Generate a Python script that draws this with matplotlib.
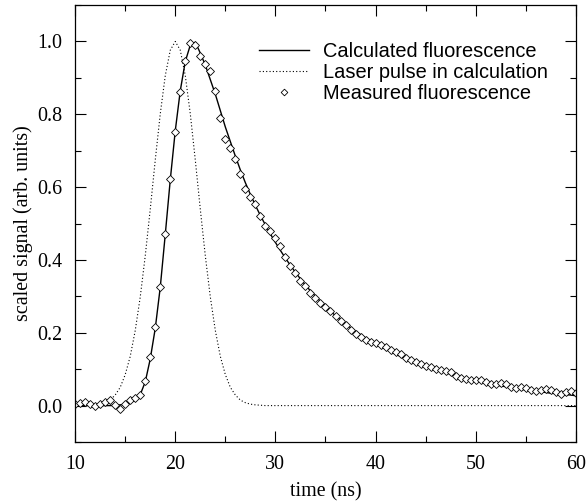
#!/usr/bin/env python3
"""Calculated vs measured fluorescence, with the laser pulse used in the calculation."""

import matplotlib

matplotlib.use("Agg")
import matplotlib.pyplot as plt
import numpy as np
from matplotlib.legend_handler import HandlerLine2D
from matplotlib.lines import Line2D
from matplotlib.ticker import FormatStrFormatter, MultipleLocator

# time grid of the measurement (ns), 0.5 ns steps from 10 to 60
time_ns = [10 + 0.5 * i for i in range(101)]

measured = [
    0.005, 0.007, 0.010, 0.005, 0.000, 0.005, 0.010, 0.015, 0.003, -0.008,
    0.005, 0.015, 0.020, 0.030, 0.067, 0.133, 0.216, 0.327, 0.470, 0.621,
    0.752, 0.860, 0.947, 0.997, 0.991, 0.961, 0.939, 0.918, 0.863, 0.790,
    0.733, 0.707, 0.678, 0.637, 0.596, 0.572, 0.553, 0.522, 0.493, 0.479,
    0.461, 0.437, 0.407, 0.384, 0.364, 0.343, 0.329, 0.310, 0.296, 0.283,
    0.272, 0.260, 0.245, 0.232, 0.220, 0.208, 0.197, 0.188, 0.181, 0.175,
    0.171, 0.166, 0.162, 0.154, 0.147, 0.141, 0.132, 0.125, 0.119, 0.113,
    0.109, 0.105, 0.101, 0.098, 0.096, 0.092, 0.081, 0.075, 0.072, 0.070,
    0.070, 0.069, 0.065, 0.060, 0.058, 0.063, 0.059, 0.051, 0.048, 0.050,
    0.047, 0.043, 0.040, 0.043, 0.046, 0.043, 0.037, 0.031, 0.036, 0.039,
    0.034,
]

calculated = [
    0.000, 0.000, 0.000, 0.000, 0.000, 0.000, 0.000, 0.000, 0.001, 0.002,
    0.004, 0.008, 0.015, 0.030, 0.065, 0.128, 0.212, 0.325, 0.470, 0.620,
    0.755, 0.865, 0.945, 0.990, 0.998, 0.968, 0.935, 0.895, 0.855, 0.810,
    0.765, 0.725, 0.685, 0.647, 0.612, 0.580, 0.550, 0.522, 0.496, 0.471,
    0.448, 0.426, 0.405, 0.385, 0.366, 0.348, 0.331, 0.315, 0.300, 0.286,
    0.272, 0.259, 0.247, 0.235, 0.224, 0.214, 0.204, 0.195, 0.186, 0.178,
    0.170, 0.162, 0.155, 0.148, 0.141, 0.135, 0.129, 0.123, 0.118, 0.113,
    0.108, 0.103, 0.098, 0.094, 0.090, 0.086, 0.082, 0.078, 0.075, 0.071,
    0.068, 0.065, 0.062, 0.059, 0.057, 0.054, 0.052, 0.050, 0.047, 0.045,
    0.043, 0.041, 0.039, 0.038, 0.036, 0.034, 0.033, 0.031, 0.030, 0.029,
    0.027,
]

laser = [
    0.000, 0.000, 0.000, 0.001, 0.002, 0.004, 0.008, 0.015, 0.029, 0.050,
    0.085, 0.135, 0.206, 0.298, 0.411, 0.539, 0.674, 0.801, 0.906, 0.976,
    1.000, 0.976, 0.906, 0.801, 0.674, 0.539, 0.411, 0.298, 0.206, 0.135,
    0.085, 0.050, 0.029, 0.015, 0.008, 0.004, 0.002, 0.001,
] + [0.0] * 63

SERIF = "Liberation Serif"
SANS = "Liberation Sans"
FS = 14.4


class RightEndMarker(HandlerLine2D):
    """Legend sample whose single point sits at the right end of the line."""

    def get_xdata(self, legend, xdescent, ydescent, width, height, fontsize):
        xdata, _ = super().get_xdata(legend, xdescent, ydescent, width,
                                     height, fontsize)
        return xdata, np.array([-xdescent + width - 0.12 * fontsize])


fig = plt.figure(figsize=(5.87, 5.04), dpi=100)
ax = fig.add_axes([0.128, 0.123, 0.853, 0.867])

calc_line, = ax.plot(time_ns, calculated, color="black", lw=1.0)
laser_line, = ax.plot(time_ns, laser, color="black", lw=0.8, ls=(0, (1, 2)))
ax.plot(time_ns, measured, ls="none", marker="D", ms=4.4, mfc="white",
        mec="black", mew=0.6)

ax.set_xlim(10, 60)
ax.set_ylim(-0.1, 1.1)
ax.xaxis.set_major_locator(MultipleLocator(10))
ax.xaxis.set_minor_locator(MultipleLocator(5))
ax.yaxis.set_major_locator(MultipleLocator(0.2))
ax.yaxis.set_minor_locator(MultipleLocator(0.1))
ax.yaxis.set_major_formatter(FormatStrFormatter("%.1f"))
ax.tick_params(which="both", direction="in", top=True, right=True,
               width=0.8, labelsize=FS, pad=9)
ax.tick_params(which="major", length=8)
ax.tick_params(which="minor", length=4)
for lab in ax.get_xticklabels() + ax.get_yticklabels():
    lab.set_family(SERIF)
for sp in ax.spines.values():
    sp.set_linewidth(0.9)

ax.set_xlabel("time (ns)", family=SERIF, fontsize=FS, labelpad=6)
ax.set_ylabel("scaled signal (arb. units)", family=SERIF, fontsize=FS,
              labelpad=3)

meas_proxy = Line2D([], [], ls="none", marker="D", ms=3.4, mfc="white",
                    mec="black", mew=0.6)
ax.legend([calc_line, laser_line, meas_proxy],
          ["Calculated fluorescence", "Laser pulse in calculation",
           "Measured fluorescence"],
          handler_map={meas_proxy: RightEndMarker(numpoints=1)},
          loc="upper left", bbox_to_anchor=(0.367, 0.916), frameon=False,
          prop={"family": SANS, "size": FS}, handlelength=2.5,
          handletextpad=0.7, labelspacing=0.1, borderaxespad=0,
          borderpad=0)

fig.savefig("out.png", dpi=100)
